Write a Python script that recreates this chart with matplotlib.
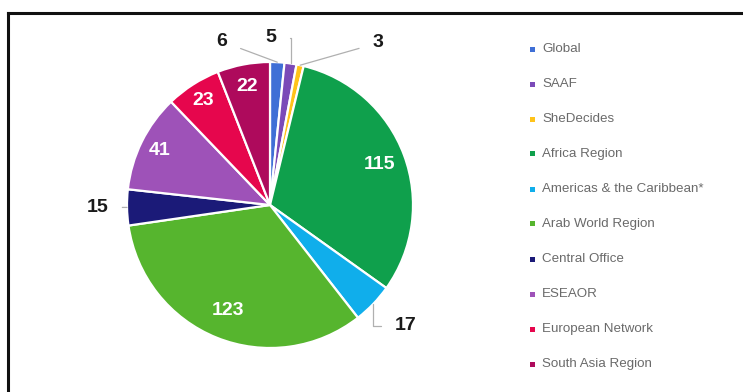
import numpy as np
import matplotlib.pyplot as plt
from matplotlib.patches import Rectangle
from matplotlib.lines import Line2D

regions = ["Global", "SAAF", "SheDecides", "Africa Region",
           "Americas & the Caribbean*", "Arab World Region", "Central Office",
           "ESEAOR", "European Network", "South Asia Region"]
counts = [6, 5, 3, 115, 17, 123, 15, 41, 23, 22]
colors = ["#3F6FD6", "#7B4AB8", "#FFC31A", "#0FA04C", "#10AEEB",
          "#56B52E", "#1B1A78", "#9E52B8", "#E6064D", "#AE0A5C"]

W, H = 743, 392
fig = plt.figure(figsize=(W / 100, H / 100), dpi=100)
plt.rcParams['font.family'] = ['Liberation Sans', 'DejaVu Sans']

# frame of the cropped box
fig.add_artist(Line2D([8 / W, 8 / W], [0, 1 - 13 / H], color="#111111", lw=2.2))
fig.add_artist(Line2D([8 / W, 1], [1 - 13 / H, 1 - 13 / H], color="#111111", lw=2.2))

cx, cy, r = 270, 205, 143
ax = fig.add_axes([(cx - r) / W, (H - cy - r) / H, 2 * r / W, 2 * r / H])
wedges, _ = ax.pie(counts, colors=colors, startangle=90, counterclock=False,
                   wedgeprops=dict(edgecolor="white", linewidth=1.6))
ax.set_xlim(-1, 1)
ax.set_ylim(-1, 1)
ax.set_aspect("auto")
ax.axis("off")

def mid(w):
    a = np.deg2rad((w.theta1 + w.theta2) / 2)
    return np.cos(a), np.sin(a)

# labels inside the big slices
inside = {3: 0.82, 5: 0.795, 7: 0.86, 8: 0.87, 9: 0.845}
for i, d in inside.items():
    x, y = mid(wedges[i])
    ax.text(x * d, y * d, str(counts[i]), color="white", fontsize=14,
            fontweight="bold", ha="center", va="center")

# outside labels with leader lines
outside = {0: ((-0.336, 1.143), "arc3"),
           1: ((0.007, 1.168), "angle,angleA=0,angleB=90,rad=0"),
           2: ((0.755, 1.133), "arc3"),
           6: ((-1.206, -0.017), "arc3"),
           4: ((0.951, -0.843), "angle,angleA=0,angleB=90,rad=0")}
for i, ((tx, ty), cs) in outside.items():
    x, y = mid(wedges[i])
    ax.annotate(str(counts[i]), xy=(x, y), xytext=(tx, ty),
                fontsize=14, fontweight="bold", color="#1a1a1a",
                ha="center", va="center", annotation_clip=False,
                arrowprops=dict(arrowstyle="-", color="#b0b0b0", lw=0.9,
                                shrinkA=8, shrinkB=0, connectionstyle=cs))

# legend
y0, step = 49, 35
for k, name in enumerate(regions):
    yy = 1 - (y0 + k * step) / H
    fig.add_artist(Rectangle((530 / W, yy - 2.5 / H), 5 / W, 5 / H,
                             transform=fig.transFigure, color=colors[k], lw=0))
    fig.text(542 / W, yy, name, fontsize=9.6, color="#6a6a6a", va="center",
             ha="left")

fig.savefig("out.png", dpi=100)
